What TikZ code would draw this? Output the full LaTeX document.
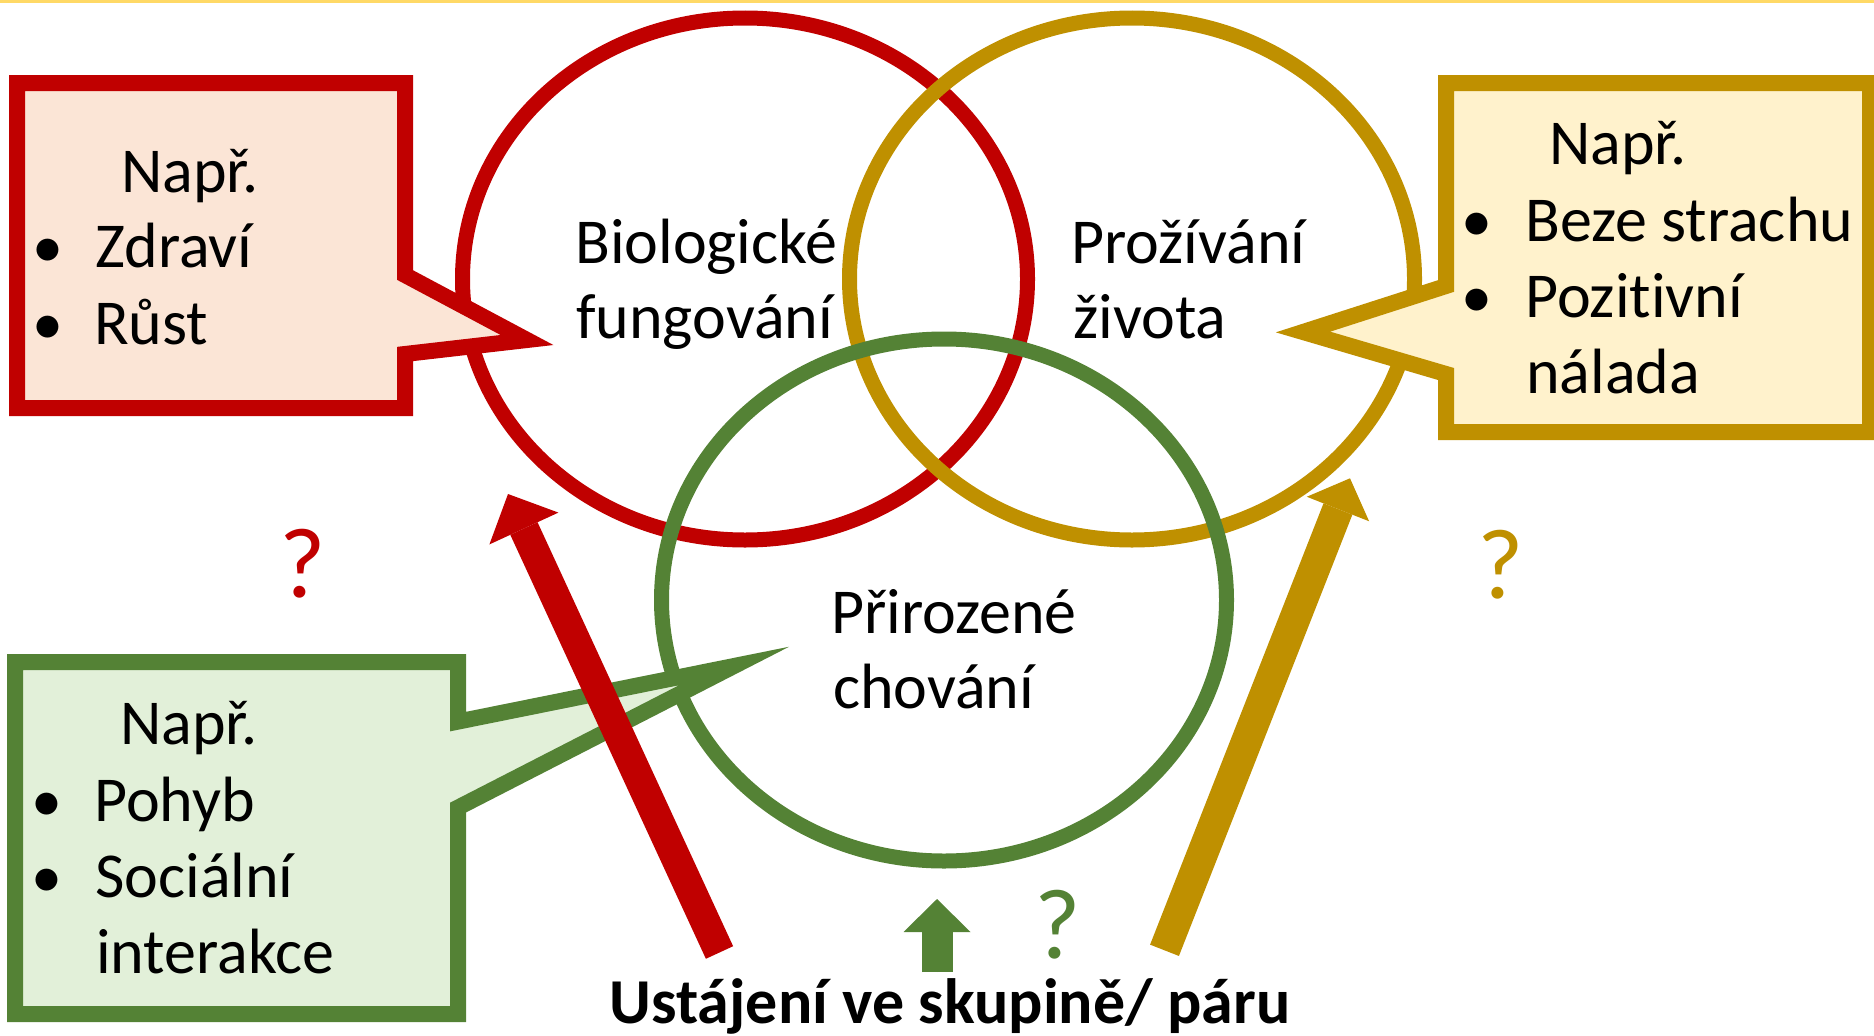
\documentclass[tikz,border=0pt]{standalone}
\usepackage{fontspec}
\setmainfont{Carlito}[Ligatures={NoCommon}]
\usetikzlibrary{arrows.meta,shapes.geometric}
\definecolor{redc}{HTML}{C00000}
\definecolor{redfill}{HTML}{FBE5D6}
\definecolor{goldc}{HTML}{BF9000}
\definecolor{goldfill}{HTML}{FFF2CC}
\definecolor{greenc}{HTML}{548235}
\definecolor{greenfill}{HTML}{E2F0D9}
\definecolor{topline}{HTML}{FFD966}
\begin{document}
\begin{tikzpicture}[x=1pt,y=-1pt,
  ring/.style={ellipse, inner sep=0pt, outer sep=0pt, line width=15pt, minimum width=565pt, minimum height=522pt},
  callout/.style={line width=16pt, line join=miter, miter limit=12},
  txt/.style={inner sep=0pt, anchor=base west, font=\fontsize{64}{76}\selectfont},
  bul/.style={inner sep=0pt, anchor=base, font=\fontsize{62}{74}\selectfont},
  qm/.style={inner sep=0pt, anchor=base, font=\fontsize{100}{110}\selectfont},
  bigarrow/.style={line width=30pt, -{Triangle[length=38pt,width=76pt,line width=0pt]}},
  smallarrow/.style={line width=31pt, -{Triangle[length=33pt,width=67pt,line width=0pt]}}
]
\useasboundingbox (0,0) rectangle (1874,1036);
\fill[topline] (0,0) rectangle (1874,2.5);

% circles
\node[ring, draw=redc] (bio) at (745,279) {};
\node[ring, draw=goldc] (zit) at (1132,279) {};
\node[ring, draw=greenc] (chov) at (944,600) {};

% callouts
\draw[callout, draw=redc, fill=redfill] (17,83) -- (405,83) -- (405,275) -- (527,340) -- (405,354) -- (405,408) -- (17,408) -- cycle;
\draw[callout, draw=goldc, fill=goldfill] (1446,83) -- (1870,83) -- (1870,432) -- (1446,432) -- (1446,374) -- (1303,332) -- (1446,286) -- cycle;
\draw[callout, draw=greenc, fill=greenfill] (15,662) -- (458,662) -- (458,721.6) -- (734,666) -- (458,807.6) -- (458,1014) -- (15,1014) -- cycle;

% circle texts
\node[txt] (bio1) at (575,263) {Biologické};
\node[txt] (bio2) at (576,338) {fungování};
\node[txt] (zit1) at (1071,263) {Prožívání};
\node[txt] (zit2) at (1073,338) {života};
\node[txt] (chov1) at (831,633) {Přirozené};
\node[txt] (chov2) at (833,708) {chování};

% red callout text
\node[txt] (rn) at (121,192) {Např.};
\node[bul] (rb1) at (48,267) {•};
\node[txt] (r1) at (95,267) {Zdraví};
\node[bul] (rb2) at (48,344) {•};
\node[txt] (r2) at (94,344) {Růst};

% gold callout text
\node[txt] (gn) at (1549,164) {Např.};
\node[bul] (gb1) at (1477,241) {•};
\node[txt] (g1) at (1525,241) {Beze strachu};
\node[bul] (gb2) at (1477,317) {•};
\node[txt] (g2) at (1525,317) {Pozitivní};
\node[txt] (g3) at (1526,393) {nálada};

% green callout text
\node[txt] (en) at (120,744) {Např.};
\node[bul] (eb1) at (47,821) {•};
\node[txt] (e1) at (94,821) {Pohyb};
\node[bul] (eb2) at (47,897) {•};
\node[txt] (e2) at (95,897) {Sociální};
\node[txt] (e3) at (96,973) {interakce};

% question marks
\node[qm, text=redc] (qr) at (303,597) {?};
\node[qm, text=goldc] (qg) at (1501,598) {?};
\node[qm, text=greenc] (qe) at (1058,958) {?};

% bottom text
\node[inner sep=0pt, anchor=base, font=\bfseries\fontsize{64}{76}\selectfont] (ust) at (950,1023) {Ustájení ve skupině/ páru};

% arrows
\coordinate (rtail) at (719.5,952.5);
\coordinate (rtip) at (508,494);
\coordinate (gtail) at (1164.5,950.3);
\coordinate (gtip) at (1350,478.3);
\coordinate (etail) at (937,972);
\coordinate (etip) at (937,899);
\draw[bigarrow, draw=redc, fill=redc] (rtail) -- (rtip);
\draw[smallarrow, draw=goldc, fill=goldc] (gtail) -- (gtip);
\draw[smallarrow, draw=greenc, fill=greenc] (etail) -- (etip);
\end{tikzpicture}
\end{document}
